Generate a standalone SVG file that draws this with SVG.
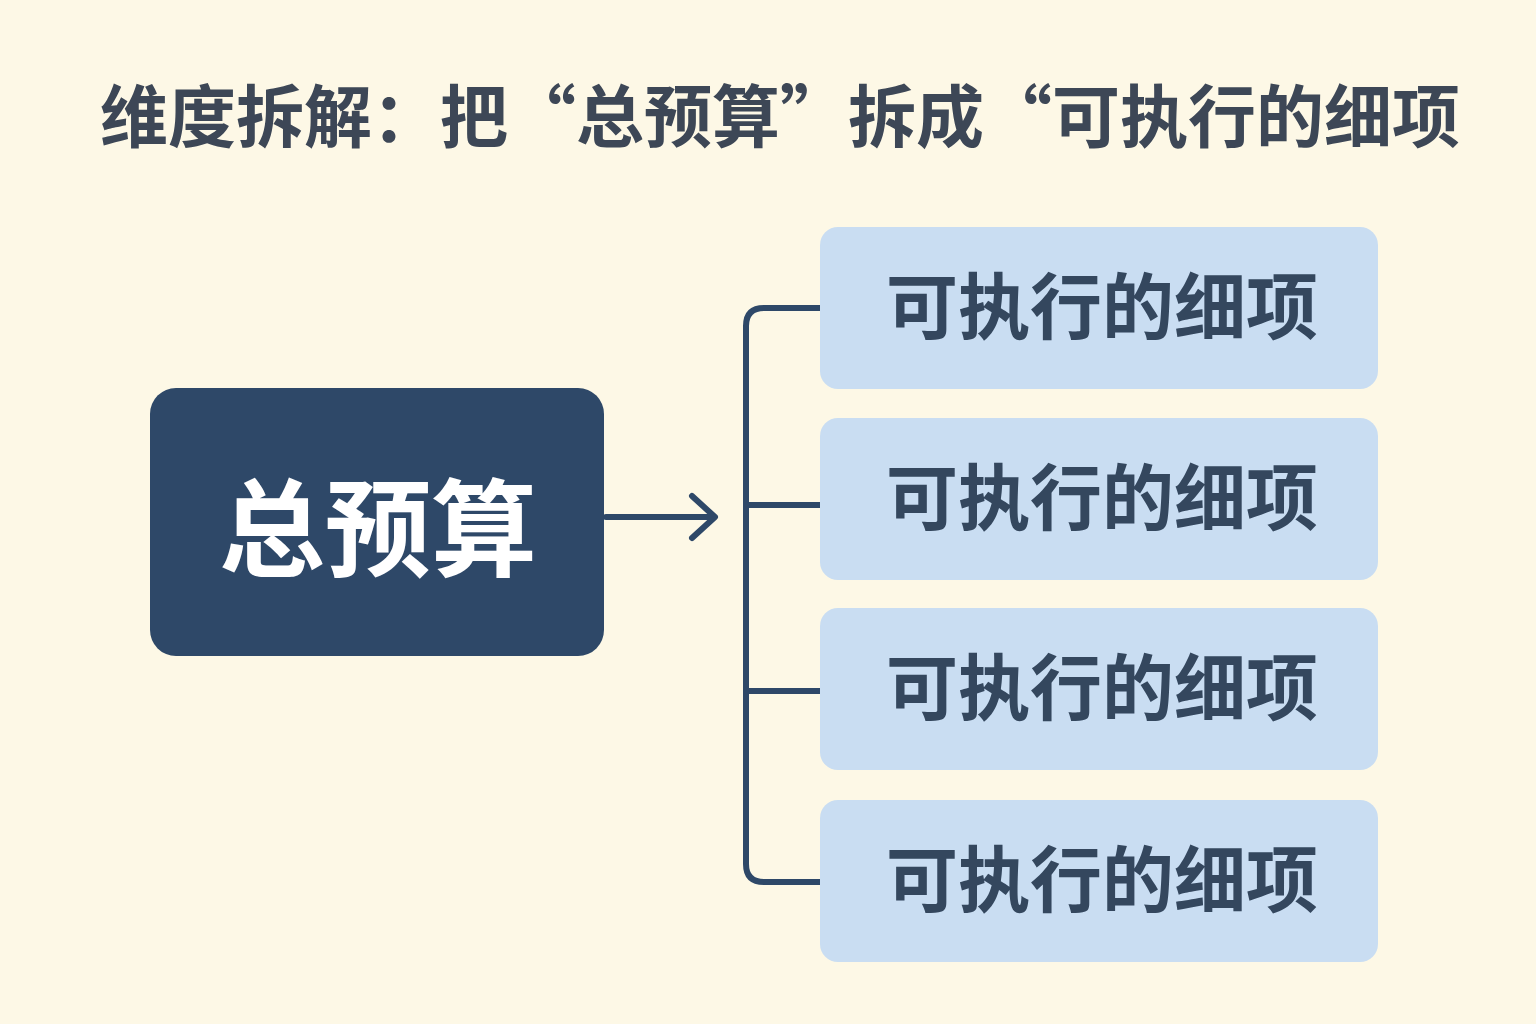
<svg xmlns="http://www.w3.org/2000/svg" width="1536" height="1024" viewBox="0 0 1536 1024">
<style>
.t{font-family:"Noto Sans CJK SC","Noto Sans",sans-serif;font-weight:bold;text-anchor:middle}
.item{fill:#c9ddf2}
.it{fill:#34475e;font-size:72px}
.c{fill:none;stroke:#2e4868;stroke-width:6;stroke-linecap:round;stroke-linejoin:round}
</style>
<rect width="1536" height="1024" fill="#fdf8e6"/>
<text class="t" x="780" y="142" font-size="68" fill="#3d4756">维度拆解：把“总预算”拆成“可执行的细项</text>
<g id="root"><rect x="150" y="388" width="454" height="268" rx="26" fill="#2e4868"/>
<text class="t" x="378" y="568" font-size="106" fill="#ffffff">总预算</text></g>
<g id="connectors">
<path class="c" d="M606 517H713M692 496L715 517L692 538"/>
<path class="c" d="M820 308H764Q746 308 746 326V864Q746 882 764 882H820M746 505H820M746 691H820"/>
</g>
<g id="n1"><rect class="item" x="820" y="227" width="558" height="162" rx="18"/><text class="t it" x="1102" y="333">可执行的细项</text></g>
<g id="n2"><rect class="item" x="820" y="418" width="558" height="162" rx="18"/><text class="t it" x="1102" y="524">可执行的细项</text></g>
<g id="n3"><rect class="item" x="820" y="608" width="558" height="162" rx="18"/><text class="t it" x="1102" y="714">可执行的细项</text></g>
<g id="n4"><rect class="item" x="820" y="800" width="558" height="162" rx="18"/><text class="t it" x="1102" y="906">可执行的细项</text></g>
</svg>
